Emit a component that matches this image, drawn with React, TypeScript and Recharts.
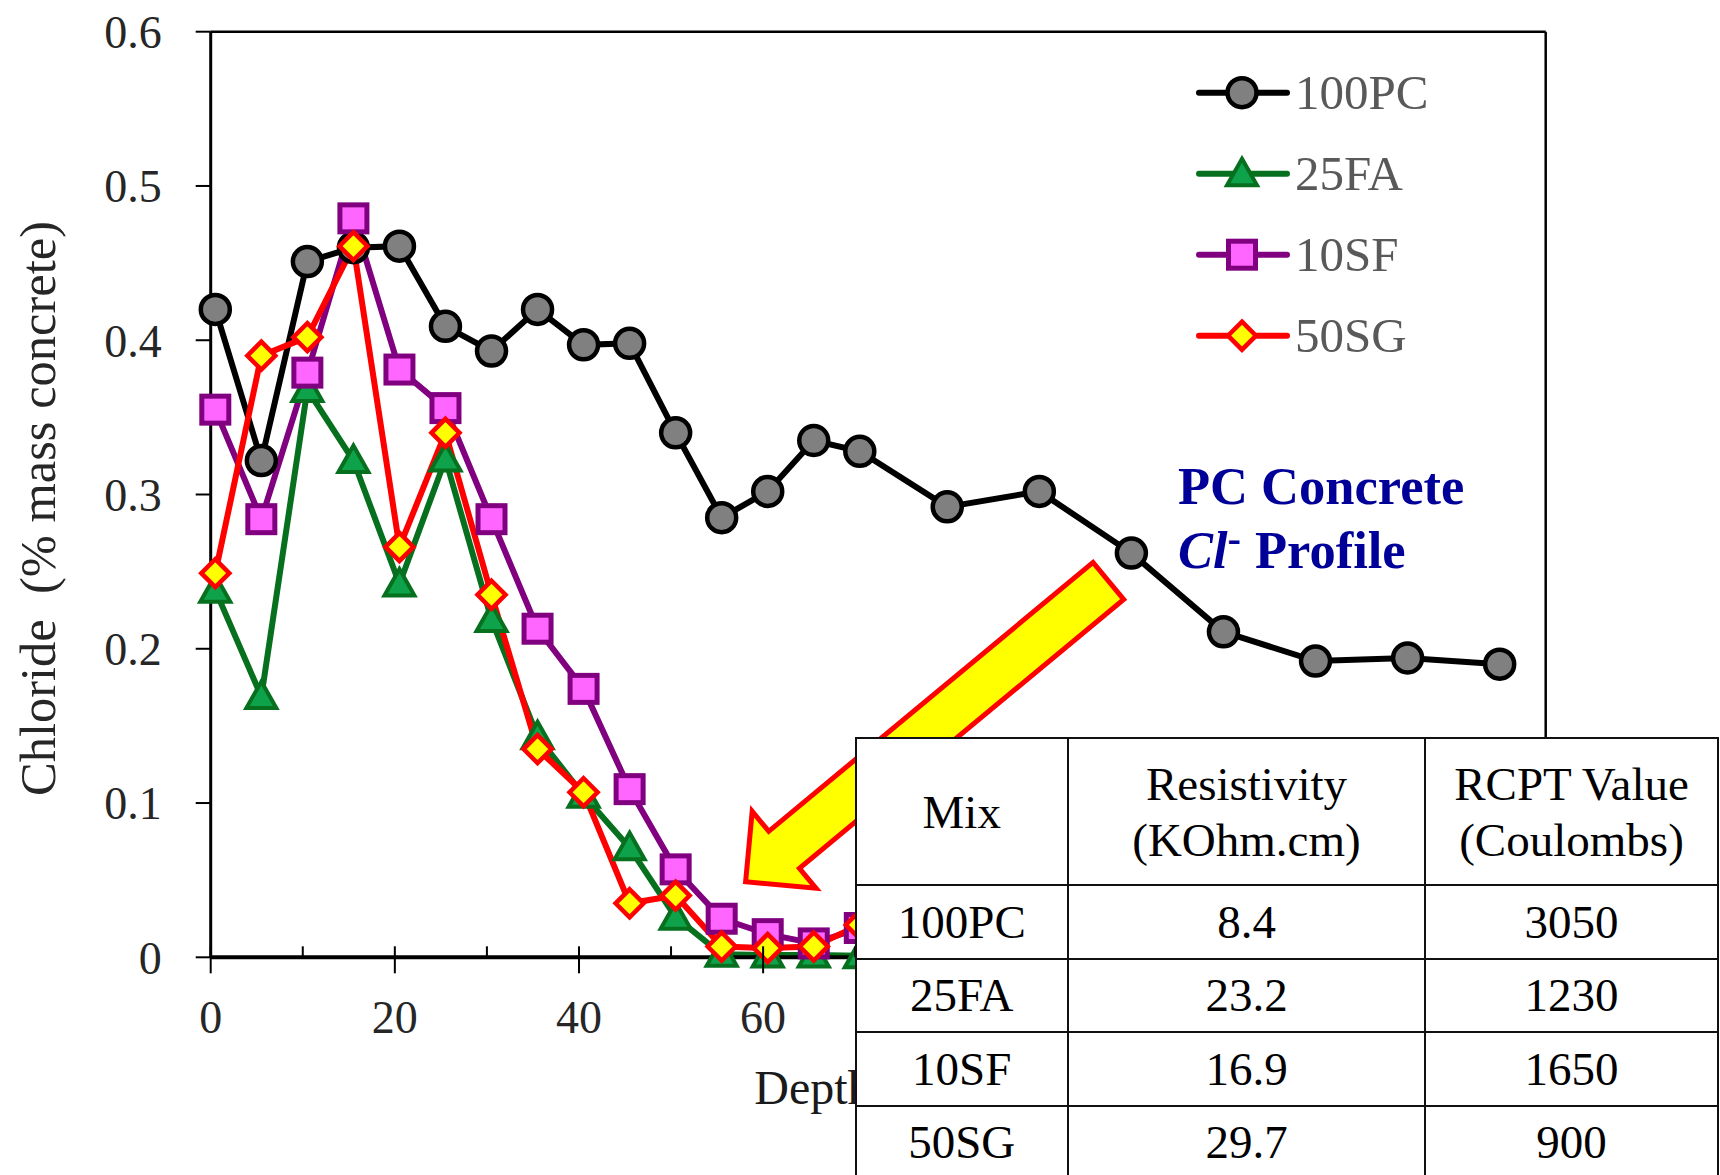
import React from "react";
import { LineChart, Line, XAxis, YAxis, Legend, ReferenceLine, Customized } from "recharts";

// Chloride profiles by depth (mm), % by mass of concrete
const depth = [0.5, 5.5, 10.5, 15.5, 20.5, 25.5, 30.5, 35.5, 40.5, 45.5, 50.5, 55.5, 60.5, 65.5, 70.5, 80, 90, 100, 110, 120, 130, 140];
const pc100 = [0.42, 0.322, 0.451, 0.46, 0.461, 0.409, 0.393, 0.42, 0.397, 0.398, 0.34, 0.285, 0.302, 0.335, 0.328, 0.292, 0.302, 0.262, 0.211, 0.192, 0.194, 0.19];
const fa25 = [0.238, 0.169, 0.368, 0.322, 0.242, 0.323, 0.219, 0.143, 0.105, 0.071, 0.026, 0.002, 0.0015, 0.0015, 0.001];
const sf10 = [0.355, 0.284, 0.379, 0.479, 0.381, 0.356, 0.284, 0.213, 0.174, 0.109, 0.057, 0.025, 0.015, 0.009, 0.019];
const sg50 = [0.249, 0.39, 0.402, 0.461, 0.266, 0.34, 0.235, 0.135, 0.107, 0.035, 0.04, 0.007, 0.006, 0.007, 0.021];

const xTicks = [0, 10, 20, 30, 40, 50, 60, 70, 80, 90, 100, 110, 120, 130, 140];
const yTicks = [0, 0.1, 0.2, 0.3, 0.4, 0.5, 0.6];

// table of test results
const mixNames = ["100PC", "25FA", "10SF", "50SG"];
const resistivity = [8.4, 23.2, 16.9, 29.7];
const rcpt = [3050, 1230, 1650, 900];

// arrow from the PC note down to the low-chloride region (depth, chloride)
const arrowTail = { x: 97.5, y: 0.244 };
const arrowTip = { x: 58.1, y: 0.049 };

const serif = "'Liberation Serif', 'Times New Roman', serif";

type Shape = "circle" | "triangle" | "square" | "diamond";

const series: { key: string; name: string; values: number[]; line: string; fill: string; shape: Shape }[] = [
  { key: "pc100", name: "100PC", values: pc100, line: "#000000", fill: "#808080", shape: "circle" },
  { key: "fa25", name: "25FA", values: fa25, line: "#07701f", fill: "#0ea34b", shape: "triangle" },
  { key: "sf10", name: "10SF", values: sf10, line: "#800080", fill: "#ff66ff", shape: "square" },
  { key: "sg50", name: "50SG", values: sg50, line: "#ff0000", fill: "#ffff00", shape: "diamond" },
];

const rows = depth.map((d, i) => {
  const row: any = { depth: d };
  series.forEach((s) => {
    row[s.key] = i < s.values.length ? s.values[i] : null;
  });
  return row;
});

const Marker = ({ shape, cx, cy, fill, stroke }: { shape: Shape; cx: number; cy: number; fill: string; stroke: string }) => {
  if (shape === "circle") {
    return <circle cx={cx} cy={cy} r={14.5} fill={fill} stroke={stroke} strokeWidth={4.5} />;
  }
  if (shape === "triangle") {
    const pts = `${cx},${cy - 15} ${cx + 15},${cy + 11.5} ${cx - 15},${cy + 11.5}`;
    return <polygon points={pts} fill={fill} stroke={stroke} strokeWidth={4} strokeLinejoin="miter" />;
  }
  if (shape === "square") {
    return <rect x={cx - 13.5} y={cy - 13.5} width={27} height={27} fill={fill} stroke={stroke} strokeWidth={5} />;
  }
  const pts = `${cx},${cy - 14} ${cx + 14},${cy} ${cx},${cy + 14} ${cx - 14},${cy}`;
  return <polygon points={pts} fill={fill} stroke={stroke} strokeWidth={4.5} />;
};

const DepthTick = (props: any) => {
  const { x, y, payload } = props;
  const major = payload.value % 20 === 0;
  return (
    <g>
      <line x1={x} x2={x} y1={y - 11} y2={major ? y + 16 : y} stroke="#000" strokeWidth={2} />
      {major && (
        <text x={x} y={y + 76} textAnchor="middle" fontSize={46} fontFamily={serif} fill="#262626">
          {payload.value}
        </text>
      )}
    </g>
  );
};

const XTitle = (props: any) => {
  const vb = props.viewBox || { x: 210, y: 957, width: 1335 };
  return (
    <text x={vb.x + vb.width / 2} y={vb.y + 147} textAnchor="middle" fontSize={48} fontFamily={serif} fill="#1a1a1a">
      {"Depth\u00a0 (mm)"}
    </text>
  );
};

const YTitle = (props: any) => {
  const vb = props.viewBox || { x: 0, y: 31, height: 926 };
  const cx = vb.x + 55;
  const cy = vb.y + vb.height / 2 + 14;
  return (
    <text x={cx} y={cy} transform={`rotate(-90, ${cx}, ${cy})`} textAnchor="middle" fontSize={50.5} fontFamily={serif} fill="#262626">
      {"Chloride\u00a0 (% mass concrete)"}
    </text>
  );
};

// block arrow between the two reference points
const BlockArrow = (props: any) => {
  const { x1, y1, x2, y2 } = props;
  const dx = x2 - x1;
  const dy = y2 - y1;
  const len = Math.sqrt(dx * dx + dy * dy);
  const ux = dx / len;
  const uy = dy / len;
  const nx = -uy;
  const ny = ux;
  const shaft = 24;
  const head = 50;
  const headLen = 50;
  const neckX = x2 - ux * headLen;
  const neckY = y2 - uy * headLen;
  const pts = [
    [x1 + nx * shaft, y1 + ny * shaft],
    [neckX + nx * shaft, neckY + ny * shaft],
    [neckX + nx * head, neckY + ny * head],
    [x2, y2],
    [neckX - nx * head, neckY - ny * head],
    [neckX - nx * shaft, neckY - ny * shaft],
    [x1 - nx * shaft, y1 - ny * shaft],
  ]
    .map((p) => p.join(","))
    .join(" ");
  return <polygon points={pts} fill="#ffff00" stroke="#ff0000" strokeWidth={5} />;
};

const LegendBox = () => (
  <svg width={340} height={320}>
    {series.map((s, i) => {
      const cy = 42.7 + i * 81;
      return (
        <g key={s.key}>
          <line x1={9} x2={97} y1={cy} y2={cy} stroke={s.line} strokeWidth={6} strokeLinecap="round" />
          <Marker shape={s.shape} cx={52} cy={cy} fill={s.fill} stroke={s.line} />
          <text x={105} y={cy + 16.6} fontSize={49} fontFamily={serif} fill="#595959">
            {s.name}
          </text>
        </g>
      );
    })}
  </svg>
);

const Note = () => (
  <g fontFamily={serif} fontWeight="bold" fill="#000099">
    <text x={1178} y={504} fontSize={52.5}>
      PC Concrete
    </text>
    <text x={1178} y={568} fontSize={52.5}>
      <tspan fontStyle="italic">Cl</tspan>
      <tspan dy={-16} fontSize={40}>-</tspan>
      <tspan x={1255} dy={16}>Profile</tspan>
    </text>
  </g>
);

const cell: React.CSSProperties = {
  border: "2.5px solid #111",
  textAlign: "center",
  verticalAlign: "middle",
  padding: 0,
  lineHeight: "56px",
  background: "#fff",
};

const App = () => {
  return (
    <div style={{ position: "absolute", left: 0, top: 0, width: 1720, height: 1175, overflow: "hidden", background: "#fff" }}>
      <LineChart width={1720} height={1175} data={rows} margin={{ top: 31.7, right: 174.3, left: 0, bottom: 97.7 }}>
        <XAxis
          type="number"
          dataKey="depth"
          domain={[0, 145]}
          ticks={xTicks}
          interval={0}
          height={120}
          tickSize={0}
          tickMargin={0}
          tickLine={false}
          axisLine={{ stroke: "#000", strokeWidth: 4 }}
          tick={(p: any) => <DepthTick {...p} />}
          label={XTitle}
        />
        <YAxis
          type="number"
          domain={[0, 0.6]}
          ticks={yTicks}
          width={210.7}
          tickSize={15}
          tickMargin={34}
          tickLine={{ stroke: "#000", strokeWidth: 2 }}
          axisLine={{ stroke: "#000", strokeWidth: 3 }}
          tick={{ fontSize: 46, fill: "#262626", fontFamily: serif }}
          tickFormatter={(v: number) => (v === 0 ? "0" : v.toFixed(1))}
          label={YTitle}
        />
        <ReferenceLine y={0.6} stroke="#000" strokeWidth={2.5} />
        <ReferenceLine x={145} stroke="#000" strokeWidth={2.5} />
        <ReferenceLine segment={[arrowTail, arrowTip]} ifOverflow="visible" shape={(p: any) => <BlockArrow {...p} />} />
        {series.map((s) => (
          <Line
            key={s.key}
            dataKey={s.key}
            name={s.name}
            type="linear"
            stroke={s.line}
            strokeWidth={6}
            isAnimationActive={false}
            activeDot={false}
            dot={(p: any) =>
              p.value == null || p.cy == null ? (
                <g key={p.key} />
              ) : (
                <Marker key={p.key} shape={s.shape} cx={p.cx} cy={p.cy} fill={s.fill} stroke={s.line} />
              )
            }
          />
        ))}
        <Legend
          layout="vertical"
          align="center"
          verticalAlign="middle"
          wrapperStyle={{ left: 1190, top: 50, width: 340, height: 320 }}
          content={() => <LegendBox />}
        />
        <Customized component={Note} />
      </LineChart>

      <div style={{ position: "absolute", left: 854.5, top: 737 }}>
        <table style={{ borderCollapse: "collapse", tableLayout: "fixed", width: 862.5, fontFamily: serif, fontSize: 47, color: "#000" }}>
          <colgroup>
            <col style={{ width: 212.5 }} />
            <col style={{ width: 357 }} />
            <col style={{ width: 293 }} />
          </colgroup>
          <tbody>
            <tr style={{ height: 147 }}>
              <td style={cell}>Mix</td>
              <td style={cell}>
                Resistivity
                <br />
                (KOhm.cm)
              </td>
              <td style={cell}>
                RCPT Value
                <br />
                (Coulombs)
              </td>
            </tr>
            {mixNames.map((m, i) => (
              <tr key={m} style={{ height: 73.5 }}>
                <td style={cell}>{m}</td>
                <td style={cell}>{resistivity[i].toFixed(1)}</td>
                <td style={cell}>{rcpt[i]}</td>
              </tr>
            ))}
          </tbody>
        </table>
      </div>
    </div>
  );
};

export default App;
